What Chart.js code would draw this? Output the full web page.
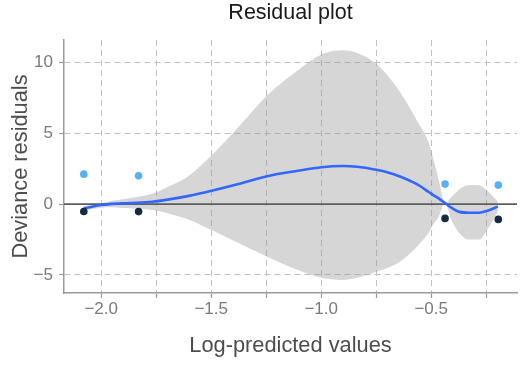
<!DOCTYPE html>
<html>
<head>
<meta charset="utf-8">
<script src="https://cdn.jsdelivr.net/npm/chart.js@4/dist/chart.umd.min.js"></script>
<style>
  html, body { margin: 0; padding: 0; background: #ffffff; }
  #wrap { width: 521px; height: 367px; }
</style>
</head>
<body>
<div id="wrap"><canvas id="c" width="521" height="367"></canvas></div>
<script>
// ---- data ----
const pointX = [-2.079, -1.830, -0.437, -0.195];
const lightY = [2.11, 1.99, 1.41, 1.34];
const darkY  = [-0.52, -0.53, -1.01, -1.08];

const smoothX = [-2.079, -2.000, -1.962, -1.872, -1.768, -1.691, -1.601, -1.498, -1.376, -1.245,
                 -1.106, -0.998, -0.903, -0.836, -0.750, -0.700, -0.642, -0.565, -0.511, -0.489,
                 -0.466, -0.437, -0.408, -0.372, -0.327, -0.282, -0.241, -0.197];
const smoothY = [-0.30, -0.07, 0.00, 0.07, 0.16, 0.33, 0.58, 0.94, 1.41, 1.97,
                 2.35, 2.60, 2.68, 2.63, 2.42, 2.25, 1.95, 1.40, 0.85, 0.62,
                 0.40, 0.07, -0.25, -0.55, -0.61, -0.61, -0.45, -0.18];
const upperY  = [-0.15, 0.05, 0.20, 0.42, 0.72, 1.25, 2.00, 3.45, 5.44, 7.68,
                 9.44, 10.55, 10.85, 10.65, 9.90, 9.10, 7.90, 5.90, 4.30, 3.10,
                 1.70, 0.07, 0.50, 1.05, 1.34, 1.32, 0.87, 0.16];
const lowerY  = [-0.45, -0.25, -0.22, -0.30, -0.42, -0.68, -1.10, -1.83, -2.75, -3.71,
                 -4.65, -5.20, -5.35, -5.20, -4.77, -4.50, -4.06, -3.00, -2.00, -1.40,
                 -0.90, 0.07, -1.13, -2.05, -2.50, -2.50, -1.70, -0.54];

const refLineY = 0;
const xTickValues = [-2.0, -1.75, -1.5, -1.25, -1.0, -0.75, -0.5, -0.25];
const xTickLabels = ['\u22122.0', '', '\u22121.5', '', '\u22121.0', '', '\u22120.5', ''];
const yTickValues = [-5, 0, 5, 10];
const yTickLabels = ['\u22125', '0', '5', '10'];
const xLimits = [-2.169, -0.110];
const yLimits = [-6.27, 11.57];

// ---- build ----
const toPts = (xs, ys) => xs.map((x, i) => ({x: x, y: ys[i]}));
Chart.defaults.font.family = '"Liberation Sans", Arial, sans-serif';

new Chart(document.getElementById('c'), {
  type: 'scatter',
  data: {
    datasets: [
      { type: 'line', data: toPts(smoothX, lowerY), borderWidth: 0, pointRadius: 0,
        cubicInterpolationMode: 'monotone', fill: false, order: 6 },
      { type: 'line', data: toPts(smoothX, upperY), borderWidth: 0, pointRadius: 0,
        cubicInterpolationMode: 'monotone', fill: '-1',
        backgroundColor: 'rgba(153,153,153,0.4)', order: 5 },
      { type: 'line', data: toPts(xLimits, [refLineY, refLineY]), borderColor: '#5e5e5e',
        borderWidth: 1.6, pointRadius: 0, fill: false, order: 4 },
      { type: 'line', data: toPts(smoothX, smoothY), borderColor: '#3366FF', borderWidth: 2.6,
        pointRadius: 0, cubicInterpolationMode: 'monotone', fill: false, order: 3 },
      { data: toPts(pointX, darkY), backgroundColor: '#132B43', borderWidth: 0,
        pointRadius: 3.8, order: 2 },
      { data: toPts(pointX, lightY), backgroundColor: '#56B1F7', borderWidth: 0,
        pointRadius: 3.8, order: 1 }
    ]
  },
  options: {
    responsive: false,
    animation: false,
    events: [],
    layout: { padding: 0 },
    plugins: {
      legend: { display: false },
      tooltip: { enabled: false },
      title: {
        display: true, text: 'Residual plot', fullSize: false,
        color: '#1a1a1a', font: { size: 21.5, weight: 'normal' },
        padding: { top: 0, bottom: 14.2 }
      }
    },
    scales: {
      x: {
        type: 'linear', min: xLimits[0], max: xLimits[1],
        afterBuildTicks: s => { s.ticks = xTickValues.map(v => ({value: v})); },
        afterFit: s => { s.height = 74; },
        ticks: {
          autoSkip: false, maxRotation: 0, padding: 1, color: '#7a7a7a',
          font: { size: 17 },
          callback: (v, i) => xTickLabels[i]
        },
        grid: { color: '#c0c0c0', lineWidth: 1, tickLength: 5, tickColor: '#9a9a9a', tickWidth: 1.2 },
        border: { display: true, color: '#9a9a9a', width: 1.5, dash: [6, 4] },
        title: { display: true, text: 'Log-predicted values', color: '#4d4d4d',
                 font: { size: 21.8 }, padding: { top: 0, bottom: 8 } }
      },
      y: {
        type: 'linear', min: yLimits[0], max: yLimits[1],
        afterBuildTicks: s => { s.ticks = yTickValues.map(v => ({value: v})); },
        afterFit: s => { s.width = 64; },
        ticks: {
          autoSkip: false, padding: 6, color: '#7a7a7a',
          font: { size: 17 },
          callback: (v, i) => yTickLabels[i]
        },
        grid: { color: '#c0c0c0', lineWidth: 1, tickLength: 5, tickColor: '#9a9a9a', tickWidth: 1.2 },
        border: { display: true, color: '#9a9a9a', width: 1.5, dash: [6, 4] },
        title: { display: true, text: 'Deviance residuals', color: '#4d4d4d',
                 font: { size: 21.8 }, padding: { top: 7.6, bottom: 0 } }
      }
    }
  }
});
</script>
</body>
</html>
